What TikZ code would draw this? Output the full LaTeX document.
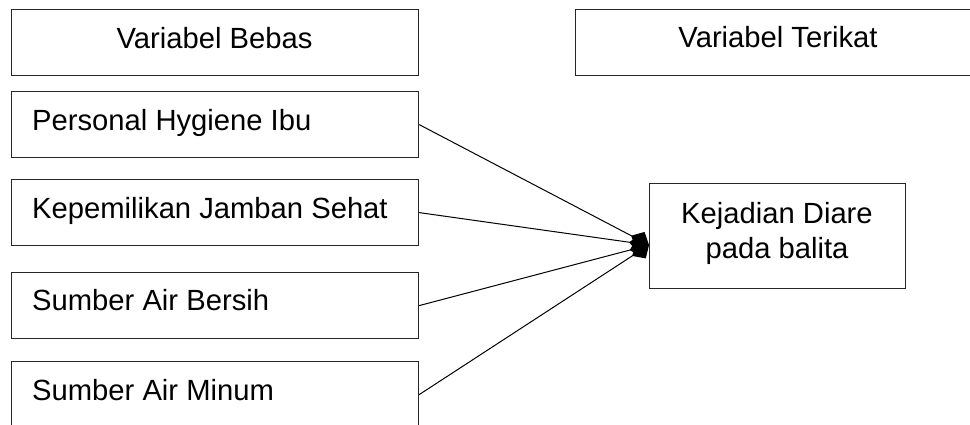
\documentclass[tikz,border=0pt]{standalone}
\usepackage{fontspec}
\setmainfont{Liberation Sans}
\usetikzlibrary{arrows.meta}
\begin{document}
\begin{tikzpicture}[x=1pt,y=-1pt,
  box/.style={draw=black!85,line width=1.2pt,rectangle,inner sep=0pt,anchor=north west},
  txt/.style={inner sep=0pt,font=\fontsize{29.2}{35}\selectfont},
  conn/.style={line width=1pt,-{Diamond[length=20pt,width=19pt]}}]
\useasboundingbox (0,0) rectangle (970,424);
\clip (0,0) rectangle (970,424);
% header boxes
\node[box,minimum width=407pt,minimum height=66pt] (hb) at (11,9) {};
\node[box,minimum width=410pt,minimum height=66pt] (ht) at (575,9) {};
\node[txt,anchor=base] (hbt) at (214.5,48) {Variabel Bebas};
\node[txt,anchor=base] (htt) at (778,47) {Variabel Terikat};
% independent variable boxes
\node[box,minimum width=407pt,minimum height=66pt] (b1) at (11,91) {};
\node[box,minimum width=407pt,minimum height=66pt] (b2) at (11,179) {};
\node[box,minimum width=407pt,minimum height=66pt] (b3) at (11,272) {};
\node[box,minimum width=407pt,minimum height=66pt] (b4) at (11,361) {};
\node[txt,anchor=base west] (t1) at (32,130) {Personal Hygiene Ibu};
\node[txt,anchor=base west] (t2) at (32,218) {Kepemilikan Jamban Sehat};
\node[txt,anchor=base west] (t3) at (32,310) {Sumber Air Bersih};
\node[txt,anchor=base west] (t4) at (32,400) {Sumber Air Minum};
% dependent variable box
\node[box,minimum width=256pt,minimum height=105pt] (dv) at (649,183) {};
\node[txt,anchor=base] (d1) at (777,223) {Kejadian Diare};
\node[txt,anchor=base] (d2) at (777,258) {pada balita};
% connectors
\coordinate (tip) at (649,245);
\draw[conn] (b1.east) -- (tip);
\draw[conn] (b2.east) -- (tip);
\draw[conn] (b3.east) -- (tip);
\draw[conn] (b4.east) -- (tip);
\end{tikzpicture}
\end{document}
